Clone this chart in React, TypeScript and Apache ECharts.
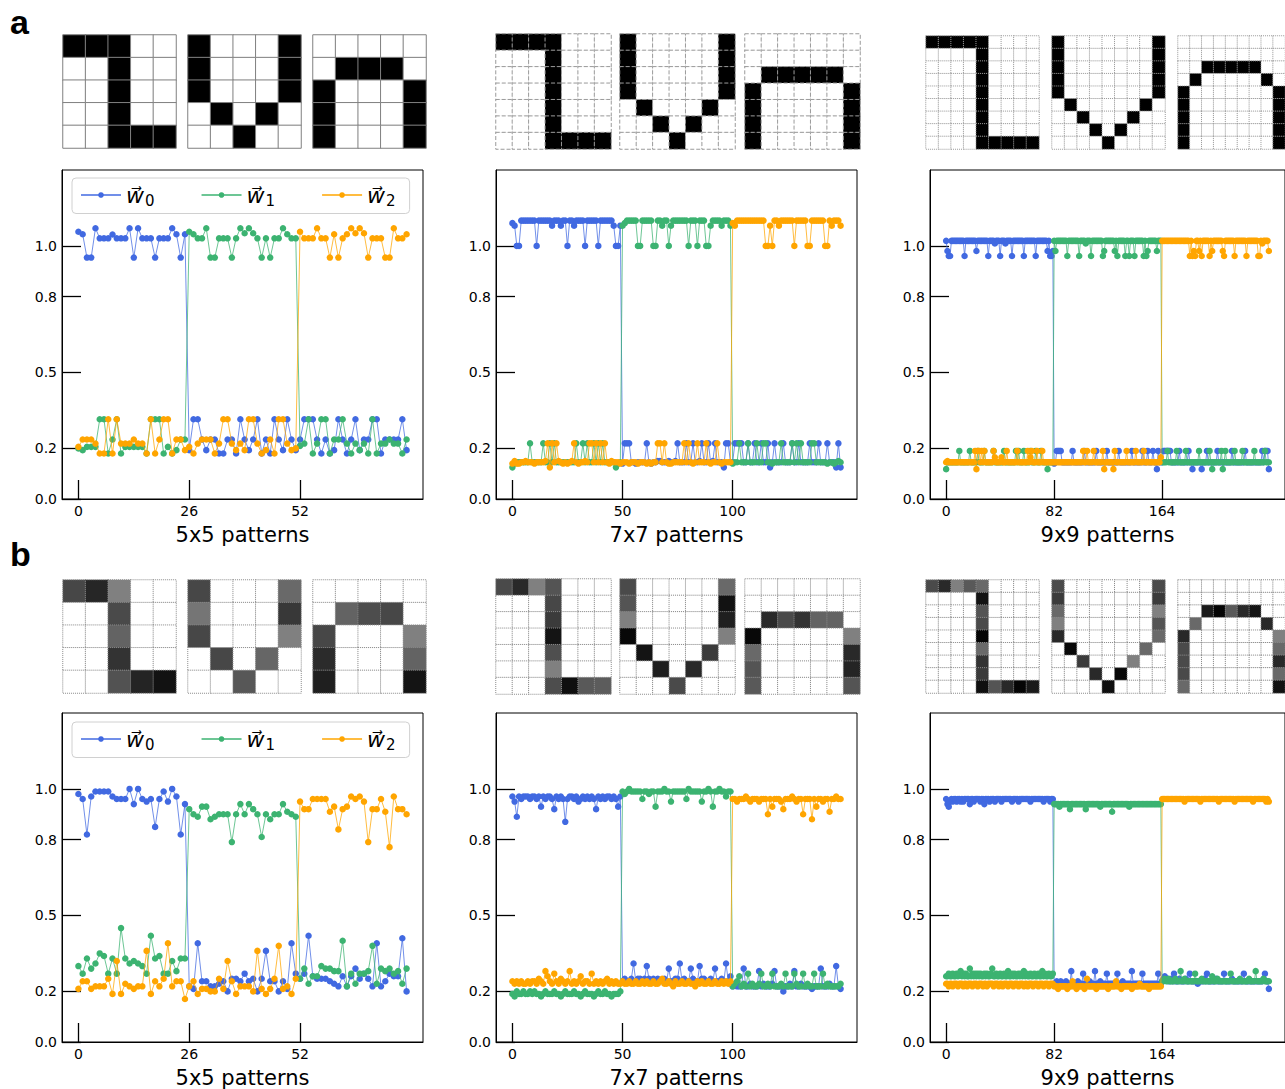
import React, { useEffect, useRef } from "react";
import * as echarts from "echarts";

const NAMES = ["w0", "w1", "w2"];
const COLORS = ["#4169e1", "#3cb371", "#ffa500"];
const SIZES = [5, 7, 9];
const X_TICKS = [[0, 26, 52], [0, 50, 100], [0, 82, 164]];
const Y_TICKS = [0, 0.2, 0.5, 0.8, 1.0];

// ---------- row a (binary patterns) ----------
const a5_w0 = [
1.056,1.046,.954,.954,1.07,1.03,1.03,1.03,1.045,1.03,
1.03,1.03,1.07,.954,1.07,1.03,1.03,1.03,.954,1.03,
1.03,1.03,1.07,1.046,.954,1.046,
.193,.315,.315,.235,.193,.235,.235,.18,.18,.235,
.235,.18,.315,.235,.193,.235,.315,.18,.235,.18,
.315,.235,.193,.315,.235,.193,
.235,.315,.315,.315,.235,.18,.235,.18,.193,.315,
.235,.18,.235,.315,.193,.235,.235,.315,.315,.18,
.235,.235,.235,.235,.315,.193];
const a5_w1 = [
.2,.193,.206,.206,.206,.315,.315,.18,.235,.315,
.18,.206,.206,.206,.206,.206,.18,.315,.315,.315,
.18,.206,.18,.193,.235,.235,
1.056,1.046,1.03,1.03,1.07,.954,.954,1.03,1.03,1.03,
.954,1.03,1.07,1.05,1.07,1.05,1.03,.954,1.03,.954,
1.03,1.03,1.07,1.046,1.03,1.03,
.21,.219,.315,.18,.219,.315,.315,.18,.235,.235,
.315,.219,.18,.219,.193,.219,.18,.315,.18,.219,
.219,.235,.219,.219,.18,.235];
const a5_w2 = [
.206,.235,.235,.235,.219,.18,.18,.315,.18,.315,
.219,.219,.219,.235,.219,.219,.18,.315,.18,.235,
.315,.315,.18,.235,.235,.193,
.206,.18,.219,.235,.235,.235,.18,.219,.315,.315,
.219,.193,.219,.193,.315,.315,.219,.18,.193,.235,
.18,.315,.315,.219,.193,.2,
1.056,1.03,1.03,1.03,1.07,1.03,1.03,.954,1.046,.954,
1.03,1.046,1.07,1.05,1.07,1.05,.954,1.03,1.03,1.03,
.954,.954,1.07,1.03,1.03,1.046];

const a7_w0 = [
1.09,1.08,1,1,1.1,1.1,1.1,1.1,1.1,1.1,
1.1,1,1.1,1.1,1.1,1.1,1.1,1.1,1.08,1.1,
1.1,1.1,1.08,1.1,1.1,1,1.1,1.1,1.08,1.1,
1.1,1.1,1.1,1,1.1,1.1,1.1,1.1,1.1,1,
1.1,1.1,1.1,1.1,1.1,1.1,1.08,1,1,1.08,
.14,.22,.22,.22,.145,.145,.14,.145,.145,.145,
.145,.22,.145,.14,.145,.145,.15,.15,.145,.145,
.145,.15,.145,.145,.15,.22,.145,.145,.145,.22,
.145,.145,.22,.145,.145,.15,.22,.145,.145,.22,
.145,.15,.22,.145,.145,.145,.125,.22,.22,.145,
.145,.22,.22,.22,.22,.145,.145,.22,.145,.145,
.22,.145,.145,.22,.145,.145,.22,.125,.145,.22,
.145,.145,.145,.22,.145,.145,.145,.22,.145,.145,
.22,.145,.145,.145,.145,.22,.145,.145,.145,.22,
.145,.145,.145,.22,.145,.145,.145,.125,.22,.125];
const a7_w1 = [
.125,.14,.145,.145,.145,.145,.145,.145,.22,.145,
.145,.145,.145,.145,.22,.145,.145,.22,.145,.22,
.145,.145,.145,.145,.145,.145,.145,.145,.145,.22,
.145,.145,.22,.145,.22,.145,.145,.22,.145,.22,
.145,.22,.145,.145,.145,.145,.145,.125,.14,.145,
1.08,1.09,1.1,1.1,1.1,1.1,1.1,1,1,1.1,
1.1,1.1,1.1,1.1,1,1,1.1,1.1,1.08,1.1,
1.1,1,1.08,1.1,1.1,1.1,1.1,1.1,1.1,1.1,
1,1.1,1.1,1.1,1,1.1,1.1,1.1,1,1,
1.08,1.1,1.1,1.1,1.1,1.08,1.1,1.1,1.1,1.08,
.14,.145,.145,.22,.145,.145,.145,.22,.145,.145,
.145,.22,.145,.145,.22,.22,.145,.145,.14,.145,
.145,.145,.22,.145,.145,.145,.145,.22,.145,.22,
.145,.22,.145,.145,.145,.145,.22,.22,.145,.145,
.145,.145,.145,.14,.145,.145,.14,.145,.15,.145];
const a7_w2 = [
.14,.15,.14,.14,.145,.145,.15,.145,.145,.145,
.14,.145,.145,.145,.145,.15,.22,.125,.22,.145,
.22,.15,.145,.14,.145,.14,.145,.15,.22,.145,
.14,.145,.145,.15,.145,.22,.22,.145,.22,.145,
.22,.145,.22,.145,.14,.15,.145,.145,.145,.14,
.145,.145,.145,.14,.145,.145,.145,.14,.145,.145,
.145,.14,.145,.14,.145,.145,.22,.22,.145,.22,
.145,.14,.14,.145,.145,.145,.145,.145,.22,.145,
.22,.145,.14,.145,.22,.145,.145,.145,.22,.145,
.14,.145,.145,.22,.145,.14,.145,.145,.145,.145,
1.09,1.08,1.1,1.1,1.1,1.1,1.1,1.1,1.1,1.1,
1.1,1.1,1.1,1.1,1.1,1,1,1.08,1,1.1,
1.1,1.08,1.1,1.1,1.1,1.1,1.1,1.1,1,1.1,
1.1,1.1,1.1,1.1,1,1,1.1,1.1,1.1,1.1,
1.1,1.1,1,1,1.1,1.08,1.1,1.1,1.1,1.08];

const a9_w0 = [
1.02,.98,.96,.96,1.02,1.02,1.02,1.02,1.02,1.02,
1.02,1.02,1.02,1.02,.96,1.02,1.02,1.02,1.02,1.02,
1.02,1.02,1.02,.98,1.02,1.02,1.02,1.02,1.02,1.02,
1.02,1.02,.96,1.02,1.02,1.02,1.02,1.01,1.02,1.02,
1.02,.96,1.02,1.02,1.02,1.01,1.02,1.02,1.02,1.02,
.96,1.02,1.02,1.02,1.02,1.02,1.02,1.02,1.02,.96,
1.02,1.02,1.02,1.02,1.02,1.02,1.02,1.02,.96,1.02,
1.02,1.02,1.02,1.02,1.02,1.02,1.02,.98,1.02,.96,
.96,.98,.14,.145,.19,.19,.19,.19,.145,.145,
.145,.145,.145,.145,.145,.145,.19,.145,.145,.145,
.145,.145,.145,.145,.145,.19,.145,.145,.145,.145,
.145,.145,.145,.145,.19,.145,.145,.145,.145,.145,
.145,.145,.19,.145,.145,.145,.145,.145,.145,.145,
.145,.19,.145,.145,.145,.145,.145,.145,.145,.145,
.145,.19,.145,.145,.145,.145,.145,.145,.145,.19,
.145,.145,.145,.19,.145,.145,.145,.19,.145,.145,
.118,.19,.145,.145,.145,.19,.19,.19,.19,.19,
.19,.145,.145,.145,.145,.145,.145,.19,.145,.145,
.145,.145,.145,.145,.19,.145,.145,.118,.145,.145,
.145,.145,.145,.145,.118,.145,.145,.145,.19,.145,
.145,.145,.145,.145,.145,.145,.19,.145,.145,.145,
.145,.145,.145,.145,.145,.145,.145,.19,.145,.145,
.145,.145,.145,.145,.145,.145,.145,.19,.145,.145,
.145,.145,.145,.145,.145,.145,.145,.145,.145,.145,
.19,.145,.19,.19,.19,.118];
const a9_w1 = [
.118,.145,.145,.145,.145,.145,.145,.145,.145,.145,
.19,.145,.145,.145,.145,.145,.145,.145,.19,.145,
.145,.145,.145,.145,.19,.145,.145,.145,.145,.19,
.145,.145,.145,.145,.145,.145,.19,.145,.145,.145,
.145,.145,.145,.145,.19,.145,.145,.145,.145,.145,
.145,.145,.145,.19,.145,.19,.145,.145,.145,.19,
.145,.145,.145,.145,.19,.145,.145,.145,.19,.145,
.145,.145,.19,.145,.145,.145,.145,.118,.145,.145,
.145,.145,1.02,.98,1.02,1.02,1.02,1.02,1.02,1.02,
1.02,1.02,.96,1.02,1.02,1.02,1.02,1.02,1.02,1.02,
1.02,.96,1.02,1.02,1.02,1.02,1.01,1.02,1.02,1.02,
.96,1.02,1.02,1.02,1.02,1.02,1.02,1.02,1.02,.96,
.98,1.02,1.02,1.02,1.02,1.02,1.02,1.02,.98,1.02,
.96,1.02,1.02,1.02,1.02,1.02,.96,1.02,1.02,.96,
1.02,1.02,1.02,.96,1.02,1.02,1.02,1.02,1.02,1.02,
.96,1.02,.96,.98,1.02,1.02,1.02,1.02,1.02,1.02,
.98,1.02,1.02,1.02,.145,.145,.145,.145,.19,.145,
.145,.145,.145,.145,.145,.19,.145,.145,.145,.145,
.145,.145,.19,.145,.145,.145,.145,.145,.145,.145,
.145,.145,.19,.145,.145,.145,.145,.145,.145,.145,
.19,.145,.118,.145,.145,.145,.145,.145,.145,.19,
.118,.145,.19,.145,.145,.145,.145,.145,.145,.19,
.145,.145,.145,.145,.145,.19,.145,.145,.145,.145,
.145,.145,.145,.145,.19,.145,.145,.145,.145,.145,
.145,.145,.19,.145,.145,.145];
const a9_w2 = [
.145,.15,.145,.145,.145,.145,.145,.145,.145,.145,
.145,.145,.145,.145,.145,.145,.145,.145,.145,.145,
.145,.145,.19,.118,.19,.19,.145,.19,.145,.19,
.145,.145,.145,.145,.145,.145,.19,.165,.145,.145,
.145,.145,.165,.145,.145,.145,.19,.145,.145,.145,
.145,.145,.145,.145,.19,.145,.145,.145,.145,.145,
.145,.145,.19,.145,.165,.19,.145,.145,.145,.19,
.145,.145,.145,.19,.145,.145,.145,.145,.145,.145,
.145,.145,.145,.145,.145,.145,.145,.145,.145,.145,
.145,.145,.145,.145,.145,.145,.145,.145,.145,.145,
.145,.145,.145,.145,.19,.145,.145,.19,.145,.145,
.145,.145,.19,.145,.145,.145,.145,.145,.145,.19,
.118,.145,.145,.145,.145,.145,.145,.118,.19,.145,
.145,.145,.145,.145,.145,.145,.145,.19,.145,.145,
.145,.145,.145,.145,.19,.145,.145,.145,.145,.145,
.19,.145,.145,.145,.145,.145,.145,.145,.145,.145,
.145,.145,.145,.165,1.02,1.02,1.02,1.02,1.02,1.02,
1.02,1.02,1.02,1.02,1.02,1.02,1.02,1.02,1.02,1.02,
1.02,1.02,1.02,1.02,1.02,.96,1.02,.96,.98,.96,
1.02,1.02,.98,1.02,.96,1.02,1.02,1.02,1.02,1.02,
.96,1.02,.98,1.02,1.02,1.02,1.02,1.02,1.02,1.02,
.98,.96,1.02,1.02,1.02,1.02,1.02,1.02,1.02,.96,
1.02,1.02,1.02,1.02,1.02,1.02,1.02,1.02,.96,1.02,
1.02,1.02,1.02,1.02,1.02,1.02,1.02,.96,.96,1.02,
1.01,1.02,1.02,1.02,1.02,.98];

// ---------- row b (grayscale patterns) ----------
const b5_w0 = [
.98,.96,.82,.97,.99,.99,.99,.99,.97,.96,
.96,.96,1,.94,1,.96,.95,.96,.85,.96,
.99,.95,1,.97,.82,.94,
.22,.21,.39,.24,.24,.22,.22,.23,.24,.2,
.25,.25,.24,.27,.24,.25,.2,.25,.36,.24,
.24,.2,.24,.21,.39,.27,
.25,.27,.42,.26,.25,.25,.25,.24,.23,.22,
.26,.22,.26,.29,.25,.27,.25,.22,.39,.22,
.24,.27,.26,.26,.41,.2];
const b5_w1 = [
.3,.27,.33,.29,.31,.35,.34,.27,.33,.27,
.45,.33,.31,.32,.31,.3,.27,.42,.33,.34,
.27,.27,.32,.28,.33,.33,
.92,.9,.89,.93,.93,.88,.89,.9,.9,.9,
.79,.9,.94,.9,.94,.92,.9,.81,.9,.88,
.9,.9,.94,.91,.9,.89,
.25,.29,.23,.26,.26,.3,.29,.29,.28,.28,
.4,.22,.27,.23,.27,.27,.28,.38,.23,.29,
.28,.29,.27,.28,.23,.29];
const b5_w2 = [
.21,.24,.24,.21,.22,.22,.22,.25,.19,.32,
.19,.23,.22,.21,.22,.22,.36,.19,.24,.22,
.25,.39,.22,.24,.24,.17,
.22,.24,.19,.21,.21,.2,.2,.25,.21,.32,
.24,.19,.22,.22,.22,.2,.36,.21,.19,.21,
.25,.38,.21,.22,.19,.25,
.95,.92,.92,.96,.96,.96,.96,.91,.93,.84,
.92,.93,.97,.96,.97,.95,.79,.92,.92,.96,
.91,.77,.97,.92,.92,.9];

const b7_w0 = [
.97,.95,.89,.97,.96,.97,.97,.97,.96,.97,
.97,.96,.97,.93,.97,.96,.97,.97,.96,.92,
.97,.96,.97,.96,.87,.96,.97,.97,.96,.97,
.95,.96,.97,.96,.97,.96,.97,.96,.92,.97,
.96,.97,.96,.97,.97,.96,.97,.96,.93,.97,
.24,.25,.24,.24,.25,.31,.24,.25,.25,.24,
.25,.3,.25,.24,.25,.24,.25,.24,.24,.25,
.24,.29,.24,.24,.25,.25,.31,.24,.25,.24,
.24,.29,.25,.24,.24,.3,.25,.25,.24,.24,
.25,.24,.29,.24,.24,.25,.24,.31,.24,.26,
.22,.23,.22,.22,.22,.29,.22,.22,.23,.22,
.22,.22,.28,.22,.23,.22,.22,.22,.23,.28,
.22,.22,.22,.2,.22,.22,.23,.22,.28,.22,
.22,.23,.22,.22,.22,.22,.21,.22,.22,.22,
.29,.22,.22,.22,.23,.22,.22,.3,.22,.21];
const b7_w1 = [
.19,.18,.2,.19,.19,.2,.19,.19,.2,.19,
.2,.19,.19,.18,.19,.2,.19,.19,.19,.2,
.19,.19,.18,.19,.2,.19,.19,.19,.2,.19,
.19,.18,.19,.2,.19,.19,.19,.18,.19,.2,
.19,.19,.2,.19,.19,.18,.19,.19,.19,.2,
.99,.98,.99,1,.99,.99,.99,.99,.99,.96,
.99,.99,.98,.99,.99,.93,.99,.99,.99,1,
.99,.99,.95,.99,.99,.99,.99,.99,.99,.96,
1,.99,.99,.99,.99,.99,.95,.99,.99,1,
.99,.93,.99,.99,1,.99,.99,.97,.99,.99,
.22,.23,.24,.26,.22,.23,.22,.27,.22,.23,
.22,.22,.23,.27,.22,.22,.23,.22,.27,.22,
.22,.22,.23,.22,.27,.22,.22,.22,.27,.23,
.22,.22,.27,.22,.23,.22,.22,.27,.22,.22,
.22,.27,.22,.23,.22,.22,.22,.22,.22,.23];
const b7_w2 = [
.24,.23,.24,.23,.24,.23,.23,.24,.23,.24,
.24,.23,.25,.24,.23,.28,.26,.24,.23,.27,
.24,.23,.25,.24,.23,.24,.28,.23,.24,.23,
.24,.26,.23,.24,.24,.23,.27,.23,.24,.23,
.24,.23,.24,.25,.23,.24,.23,.24,.23,.23,
.24,.23,.23,.24,.23,.23,.24,.23,.23,.24,
.23,.24,.23,.23,.24,.23,.23,.24,.25,.23,
.23,.24,.23,.22,.24,.23,.23,.24,.23,.23,
.24,.23,.23,.22,.24,.23,.24,.23,.23,.24,
.23,.23,.24,.23,.23,.24,.23,.24,.23,.24,
.96,.96,.95,.96,.96,.96,.97,.96,.95,.96,
.96,.96,.95,.96,.96,.96,.9,.96,.93,.96,
.96,.96,.95,.92,.96,.96,.96,.97,.96,.95,
.96,.96,.9,.96,.96,.96,.88,.96,.93,.96,
.96,.95,.96,.96,.91,.96,.96,.97,.96,.96];

const b9_w0 = [
.96,.94,.93,.95,.96,.95,.96,.96,.95,.96,
.96,.95,.96,.95,.96,.96,.96,.96,.94,.96,
.96,.95,.96,.96,.96,.96,.95,.96,.96,.94,
.96,.96,.96,.95,.96,.96,.96,.95,.96,.96,
.96,.96,.95,.96,.96,.96,.96,.96,.96,.96,
.95,.96,.96,.96,.96,.95,.96,.96,.96,.96,
.96,.96,.96,.96,.95,.96,.96,.96,.96,.96,
.96,.96,.96,.96,.95,.96,.96,.96,.96,.95,
.96,.96,.23,.23,.24,.23,.23,.24,.23,.23,
.23,.24,.23,.23,.23,.28,.23,.23,.23,.23,
.24,.23,.23,.23,.27,.23,.23,.23,.23,.24,
.23,.23,.23,.28,.23,.23,.23,.24,.23,.23,
.23,.23,.27,.23,.23,.23,.23,.23,.23,.23,
.27,.23,.23,.23,.24,.23,.23,.23,.23,.23,
.23,.28,.23,.23,.23,.23,.23,.23,.23,.27,
.23,.23,.23,.23,.23,.23,.23,.23,.23,.23,
.23,.27,.23,.23,.24,.25,.26,.25,.25,.24,
.24,.25,.24,.27,.24,.24,.24,.25,.24,.24,
.24,.24,.25,.24,.24,.27,.24,.24,.24,.24,
.24,.23,.24,.24,.24,.24,.25,.24,.27,.24,
.24,.24,.24,.24,.24,.25,.24,.24,.24,.24,
.24,.27,.24,.24,.24,.24,.24,.25,.24,.24,
.24,.24,.24,.24,.24,.24,.27,.24,.24,.24,
.24,.24,.24,.24,.24,.24,.24,.24,.24,.24,
.24,.25,.27,.24,.24,.21];
const b9_w1 = [
.26,.26,.27,.26,.26,.27,.26,.26,.27,.26,
.27,.28,.26,.27,.26,.27,.26,.26,.29,.26,
.27,.26,.27,.26,.27,.26,.27,.26,.26,.27,
.26,.27,.26,.26,.27,.29,.26,.26,.27,.26,
.26,.27,.26,.26,.27,.26,.26,.28,.26,.26,
.27,.26,.27,.26,.26,.27,.26,.27,.26,.28,
.26,.27,.26,.26,.27,.26,.26,.27,.26,.26,
.27,.26,.26,.28,.26,.27,.26,.26,.27,.26,
.26,.27,.94,.94,.94,.94,.93,.94,.94,.94,
.94,.94,.94,.94,.92,.94,.94,.94,.94,.94,
.94,.94,.94,.94,.94,.94,.92,.94,.94,.94,
.94,.94,.94,.94,.94,.94,.94,.93,.94,.94,
.94,.94,.94,.94,.94,.94,.91,.94,.94,.94,
.94,.94,.94,.94,.94,.94,.94,.94,.94,.93,
.94,.94,.94,.94,.94,.94,.94,.94,.94,.94,
.94,.94,.94,.94,.94,.94,.94,.94,.94,.94,
.94,.94,.94,.94,.24,.24,.25,.24,.24,.25,
.24,.24,.24,.24,.25,.24,.24,.24,.28,.24,
.24,.25,.24,.24,.24,.24,.24,.24,.24,.27,
.24,.24,.24,.24,.25,.24,.24,.24,.24,.24,
.24,.24,.26,.24,.24,.24,.25,.24,.24,.24,
.24,.24,.24,.24,.24,.24,.27,.24,.24,.24,
.24,.24,.24,.25,.24,.24,.24,.24,.24,.24,
.25,.24,.24,.24,.24,.28,.24,.24,.24,.24,
.24,.25,.24,.24,.24,.24];
const b9_w2 = [
.23,.23,.22,.23,.23,.22,.23,.23,.23,.22,
.23,.23,.23,.22,.23,.23,.22,.23,.23,.23,
.22,.23,.23,.23,.22,.23,.23,.23,.22,.23,
.23,.22,.23,.23,.23,.23,.22,.23,.23,.23,
.22,.23,.23,.22,.23,.23,.23,.22,.23,.23,
.23,.22,.23,.23,.23,.22,.23,.23,.23,.22,
.23,.23,.22,.23,.23,.23,.22,.23,.23,.23,
.22,.23,.23,.23,.22,.23,.23,.23,.22,.23,
.23,.23,.22,.22,.22,.21,.22,.22,.22,.22,
.22,.22,.21,.22,.22,.22,.24,.22,.22,.21,
.22,.22,.22,.22,.22,.21,.22,.25,.22,.22,
.22,.22,.22,.22,.21,.22,.22,.22,.22,.22,
.22,.22,.22,.21,.22,.22,.22,.22,.22,.24,
.22,.22,.22,.21,.22,.22,.22,.22,.22,.22,
.22,.21,.22,.22,.22,.22,.22,.23,.22,.22,
.22,.22,.22,.22,.21,.22,.22,.22,.22,.22,
.22,.22,.22,.22,.96,.96,.96,.96,.96,.96,
.96,.96,.96,.96,.96,.96,.96,.96,.96,.96,
.96,.95,.96,.96,.96,.96,.96,.96,.96,.96,
.96,.96,.96,.95,.96,.96,.96,.96,.96,.96,
.96,.96,.96,.96,.96,.96,.96,.95,.96,.96,
.96,.96,.96,.96,.96,.96,.96,.96,.96,.95,
.96,.96,.96,.96,.96,.96,.96,.96,.96,.96,
.96,.96,.96,.95,.96,.96,.96,.96,.96,.96,
.96,.96,.96,.95,.96,.95];

// ---------- patterns ----------
const A5_L = [[1,1,1,0,0],[0,0,1,0,0],[0,0,1,0,0],[0,0,1,0,0],[0,0,1,1,1]];
const A5_V = [[1,0,0,0,1],[1,0,0,0,1],[1,0,0,0,1],[0,1,0,1,0],[0,0,1,0,0]];
const A5_N = [[0,0,0,0,0],[0,1,1,1,0],[1,0,0,0,1],[1,0,0,0,1],[1,0,0,0,1]];
const A7_L = [
[1,1,1,1,0,0,0],[0,0,0,1,0,0,0],[0,0,0,1,0,0,0],[0,0,0,1,0,0,0],
[0,0,0,1,0,0,0],[0,0,0,1,0,0,0],[0,0,0,1,1,1,1]];
const A7_V = [
[1,0,0,0,0,0,1],[1,0,0,0,0,0,1],[1,0,0,0,0,0,1],[1,0,0,0,0,0,1],
[0,1,0,0,0,1,0],[0,0,1,0,1,0,0],[0,0,0,1,0,0,0]];
const A7_N = [
[0,0,0,0,0,0,0],[0,0,0,0,0,0,0],[0,1,1,1,1,1,0],[1,0,0,0,0,0,1],
[1,0,0,0,0,0,1],[1,0,0,0,0,0,1],[1,0,0,0,0,0,1]];
const A9_L = [
[1,1,1,1,1,0,0,0,0],[0,0,0,0,1,0,0,0,0],[0,0,0,0,1,0,0,0,0],
[0,0,0,0,1,0,0,0,0],[0,0,0,0,1,0,0,0,0],[0,0,0,0,1,0,0,0,0],
[0,0,0,0,1,0,0,0,0],[0,0,0,0,1,0,0,0,0],[0,0,0,0,1,1,1,1,1]];
const A9_V = [
[1,0,0,0,0,0,0,0,1],[1,0,0,0,0,0,0,0,1],[1,0,0,0,0,0,0,0,1],
[1,0,0,0,0,0,0,0,1],[1,0,0,0,0,0,0,0,1],[0,1,0,0,0,0,0,1,0],
[0,0,1,0,0,0,1,0,0],[0,0,0,1,0,1,0,0,0],[0,0,0,0,1,0,0,0,0]];
const A9_N = [
[0,0,0,0,0,0,0,0,0],[0,0,0,0,0,0,0,0,0],[0,0,1,1,1,1,1,0,0],
[0,1,0,0,0,0,0,1,0],[1,0,0,0,0,0,0,0,1],[1,0,0,0,0,0,0,0,1],
[1,0,0,0,0,0,0,0,1],[1,0,0,0,0,0,0,0,1],[1,0,0,0,0,0,0,0,1]];

const B5_L = [[.72,.85,.5,0,0],[0,0,.71,0,0],[0,0,.61,0,0],[0,0,.8,0,0],[0,0,.68,.86,.93]];
const B5_V = [[.72,0,0,0,.59],[.54,0,0,0,.78],[.72,0,0,0,.5],[0,.72,0,.6,0],[0,0,.66,0,0]];
const B5_N = [[0,0,0,0,0],[0,.61,.7,.72,0],[.72,0,0,0,.5],[.83,0,0,0,.61],[.88,0,0,0,.92]];
const B7_L = [
[.71,.84,.5,.67,0,0,0],[0,0,0,.72,0,0,0],[0,0,0,.77,0,0,0],[0,0,0,.92,0,0,0],
[0,0,0,.69,0,0,0],[0,0,0,.5,0,0,0],[0,0,0,.7,.94,.65,.64]];
const B7_V = [
[.71,0,0,0,0,0,.59],[.67,0,0,0,0,0,.93],[.5,0,0,0,0,0,.88],[.97,0,0,0,0,0,.5],
[0,.92,0,0,0,.77,0],[0,0,.88,0,.84,0,0],[0,0,0,.71,0,0,0]];
const B7_N = [
[0,0,0,0,0,0,0],[0,0,0,0,0,0,0],[0,.84,.71,.8,.61,.61,0],[.97,0,0,0,0,0,.5],
[.59,0,0,0,0,0,.84],[.67,0,0,0,0,0,.86],[.65,0,0,0,0,0,.67]];
const B9_L = [
[.71,.84,.5,.65,.59,0,0,0,0],[0,0,0,0,.92,0,0,0,0],[0,0,0,0,.67,0,0,0,0],
[0,0,0,0,.71,0,0,0,0],[0,0,0,0,.98,0,0,0,0],[0,0,0,0,.59,0,0,0,0],
[0,0,0,0,.8,0,0,0,0],[0,0,0,0,.77,0,0,0,0],[0,0,0,0,.94,.67,.84,.98,.9]];
const B9_V = [
[.71,0,0,0,0,0,0,0,.71],[.77,0,0,0,0,0,0,0,.77],[.59,0,0,0,0,0,0,0,.5],
[.5,0,0,0,0,0,0,0,.67],[.84,0,0,0,0,0,0,0,.59],[0,.97,0,0,0,0,0,.59,0],
[0,0,.77,0,0,0,.5,0,0],[0,0,0,.84,0,.97,0,0,0],[0,0,0,0,.94,0,0,0,0]];
const B9_N = [
[0,0,0,0,0,0,0,0,0],[0,0,0,0,0,0,0,0,0],[0,0,.9,.98,.65,.84,.92,0,0],
[0,.59,0,0,0,0,0,.84,0],[.84,0,0,0,0,0,0,0,.5],[.71,0,0,0,0,0,0,0,.59],
[.71,0,0,0,0,0,0,0,.84],[.71,0,0,0,0,0,0,0,.59],[.59,0,0,0,0,0,0,0,.93]];

const ROWS = [
  [[a5_w0, a5_w1, a5_w2], [a7_w0, a7_w1, a7_w2], [a9_w0, a9_w1, a9_w2]],
  [[b5_w0, b5_w1, b5_w2], [b7_w0, b7_w1, b7_w2], [b9_w0, b9_w1, b9_w2]],
];
const PATTERNS = [
  [[A5_L, A5_V, A5_N], [A7_L, A7_V, A7_N], [A9_L, A9_V, A9_N]],
  [[B5_L, B5_V, B5_N], [B7_L, B7_V, B7_N], [B9_L, B9_V, B9_N]],
];

// ---------- layout ----------
const COL_LEFT = [62, 496, 930];
const PLOT_W = 361;
const PLOT_TOP = [170, 713];
const PLOT_H = [329, 330];
const PAT_LEFT = [[63, 188, 313], [496, 620, 745], [926, 1052, 1178]];
const PAT_SIZE = [113, 115, 113];
const PAT_TOP = [[35, 34, 36], [580, 579, 580]];
const PAT_BORDER = [
  [{ c: "#808080", t: "solid" }, { c: "#9a9a9a", t: "dashed" }, { c: "#9a9a9a", t: "dotted" }],
  [{ c: "#8a8a8a", t: "dotted" }, { c: "#8a8a8a", t: "dotted" }, { c: "#8a8a8a", t: "dotted" }],
];
const FONT = "DejaVu Sans";

function buildOption() {
  const grid: any[] = [];
  const xAxis: any[] = [];
  const yAxis: any[] = [];
  const series: any[] = [];
  const heatIdx: number[] = [];

  ROWS.forEach((row, r) => {
    row.forEach((panel, c) => {
      const gi = grid.length;
      const n = panel[0].length;
      const pad = (n - 1) * 0.05;
      grid.push({
        left: COL_LEFT[c], top: PLOT_TOP[r], width: PLOT_W, height: PLOT_H[r],
        show: true, borderColor: "#000", borderWidth: 1, backgroundColor: "transparent",
      });
      xAxis.push({
        type: "value", gridIndex: gi, min: -pad, max: n - 1 + pad,
        axisLine: { show: true, onZero: false, lineStyle: { color: "#000", width: 1 } },
        axisTick: { show: true, inside: true, length: 19, customValues: X_TICKS[c], lineStyle: { color: "#000", width: 1.3 } },
        axisLabel: { customValues: X_TICKS[c], color: "#000", fontSize: 14, fontFamily: FONT, margin: 5 },
        splitLine: { show: false },
        name: `${SIZES[c]}x${SIZES[c]} patterns`, nameLocation: "middle", nameGap: 25,
        nameTextStyle: { fontSize: 21, color: "#000", fontFamily: FONT },
      });
      yAxis.push({
        type: "value", gridIndex: gi, min: 0, max: 1.3,
        axisLine: { show: true, onZero: false, lineStyle: { color: "#000", width: 1 } },
        axisTick: { show: true, inside: true, length: 19, customValues: Y_TICKS, lineStyle: { color: "#000", width: 1.3 } },
        axisLabel: { customValues: Y_TICKS, color: "#000", fontSize: 14, fontFamily: FONT, margin: 5, formatter: (v: number) => v.toFixed(1) },
        splitLine: { show: false },
      });
      panel.forEach((vals, s) => {
        series.push({
          type: "line", name: NAMES[s], xAxisIndex: gi, yAxisIndex: gi,
          data: vals.map((v, i) => [i, v]),
          symbol: "circle", symbolSize: 6.5, showSymbol: true,
          lineStyle: { color: COLORS[s], width: 1, opacity: 0.75 },
          itemStyle: { color: COLORS[s] },
          emphasis: { disabled: true }, silent: true, z: 3 + s,
        });
      });
    });
  });

  PATTERNS.forEach((row, r) => {
    row.forEach((trio, c) => {
      trio.forEach((m, k) => {
        const gi = grid.length;
        const cats = m.map((_, i) => String(i));
        grid.push({ left: PAT_LEFT[c][k], top: PAT_TOP[r][c], width: PAT_SIZE[c], height: PAT_SIZE[c] });
        xAxis.push({ type: "category", gridIndex: gi, data: cats, show: false });
        yAxis.push({ type: "category", gridIndex: gi, data: cats, inverse: true, show: false });
        const data: any[] = [];
        m.forEach((rowVals, y) => rowVals.forEach((v, x) => data.push([x, y, v])));
        heatIdx.push(series.length);
        const b = PAT_BORDER[r][c];
        series.push({
          type: "heatmap", xAxisIndex: gi, yAxisIndex: gi, data, silent: true,
          itemStyle: { borderColor: b.c, borderWidth: 1, borderType: b.t },
          emphasis: { disabled: true },
        });
      });
    });
  });

  const legend = [178, 722].map((top) => ({
    left: 72, top, orient: "horizontal", data: NAMES, selectedMode: false,
    itemWidth: 40, itemHeight: 7, itemGap: 46,
    padding: [6, 14, 5, 8],
    borderColor: "#d0d0d0", borderWidth: 1, borderRadius: 4, backgroundColor: "#fff",
    formatter: (name: string) => `{w|w\u20D7}{s|${name.slice(1)}}`,
    textStyle: {
      color: "#000", fontFamily: FONT,
      rich: {
        w: { fontSize: 22, fontStyle: "italic", fontFamily: FONT, color: "#000" },
        s: { fontSize: 15, fontFamily: FONT, color: "#000", padding: [12, 0, 0, 1] },
      },
    },
  }));

  return {
    animation: false,
    backgroundColor: "#fff",
    grid, xAxis, yAxis, series, legend,
    visualMap: {
      type: "continuous", show: false, min: 0, max: 1, dimension: 2,
      seriesIndex: heatIdx, inRange: { color: ["#ffffff", "#000000"] },
    },
    graphic: [
      { type: "text", left: 10, top: 5, style: { text: "a", font: "bold 34px 'Liberation Sans'", fill: "#000" } },
      { type: "text", left: 10, top: 537, style: { text: "b", font: "bold 34px 'Liberation Sans'", fill: "#000" } },
    ],
  };
}

export default function App() {
  const ref = useRef<HTMLDivElement>(null);
  useEffect(() => {
    if (!ref.current) return;
    const chart = echarts.init(ref.current, undefined, { renderer: "svg" });
    chart.setOption(buildOption() as any);
    return () => chart.dispose();
  }, []);
  return (
    <div
      ref={ref}
      style={{ position: "absolute", left: 0, top: 0, width: 1285, height: 1089, background: "#fff" }}
    />
  );
}
